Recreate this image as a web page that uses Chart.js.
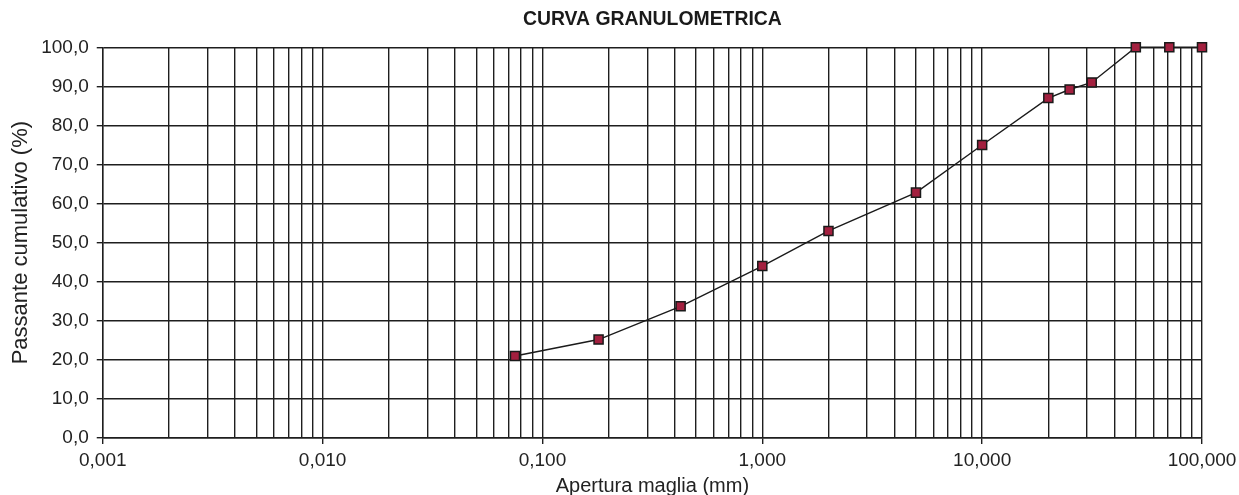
<!DOCTYPE html>
<html>
<head>
<meta charset="utf-8">
<script src="https://cdn.jsdelivr.net/npm/chart.js@4.4.0/dist/chart.umd.min.js"></script>
<style>
  html, body { margin: 0; padding: 0; background: #fff; }
  #wrap { width: 1239px; height: 495px; }
</style>
</head>
<body>
<div id="wrap"><canvas id="granChart"></canvas></div>
<script>
// sieve openings (mm) and cumulative passing (%)
const aperture = [0.075, 0.18, 0.425, 1, 2, 5, 10, 20, 25, 31.5, 50, 71, 100];
const passing = [21.0, 25.2, 33.7, 44.0, 53.0, 62.8, 75.0, 87.0, 89.2, 91.0, 100.0, 100.0, 100.0];

const xTickValues = [0.001, 0.01, 0.1, 1, 10, 100];
const xTickLabels = ['0,001', '0,010', '0,100', '1,000', '10,000', '100,000'];
const yTickLabels = ['0,0', '10,0', '20,0', '30,0', '40,0', '50,0', '60,0', '70,0', '80,0', '90,0', '100,0'];

const FONT = "'Liberation Sans', Arial, sans-serif";
const gridColor = '#1e1e1e';

const ctx = document.getElementById('granChart').getContext('2d');

const chart = new Chart(ctx, {
    type: 'line',
    data: {
        datasets: [{
            label: 'Passante',
            data: aperture.map((a, i) => ({ x: a, y: passing[i] })),
            borderColor: '#1a1a1a',
            borderWidth: 1.4,
            tension: 0,
            pointStyle: 'rect',
            pointRadius: 6.4,
            pointHoverRadius: 6.4,
            pointBackgroundColor: '#a3203f',
            pointBorderColor: '#1a1a1a',
            pointBorderWidth: 1.5,
            clip: false
        }]
    },
    options: {
        responsive: true,
        maintainAspectRatio: false,
        animation: false,
        layout: {
            padding: { left: 6, right: 0, top: 0, bottom: 0 }
        },
        scales: {
            x: {
                type: 'logarithmic',
                min: 0.001,
                max: 100,
                afterBuildTicks: function (axis) {
                    // one grid line for every 1..9 step of each decade
                    const ticks = [];
                    for (let d = 0; d < xTickValues.length - 1; d++) {
                        for (let k = 1; k <= 9; k++) {
                            ticks.push({ value: xTickValues[d] * k, major: k === 1 });
                        }
                    }
                    ticks.push({ value: xTickValues[xTickValues.length - 1], major: true });
                    axis.ticks = ticks;
                },
                afterFit: function (axis) {
                    // room for half of the last label only
                    axis.paddingRight = 37;
                },
                grid: {
                    color: gridColor,
                    lineWidth: 1.4,
                    tickLength: 6,
                    tickColor: function (c) {
                        return c.tick && c.tick.major ? gridColor : 'rgba(0,0,0,0)';
                    }
                },
                border: { color: gridColor, width: 1.4 },
                ticks: {
                    autoSkip: false,
                    maxRotation: 0,
                    padding: 7,
                    color: '#222',
                    font: { family: FONT, size: 19, lineHeight: 1 },
                    callback: function (value) {
                        const i = xTickValues.findIndex(v => Math.abs(v - value) < v * 1e-6);
                        return i >= 0 ? xTickLabels[i] : '';
                    }
                },
                title: {
                    display: true,
                    text: 'Apertura maglia (mm)',
                    color: '#222',
                    font: { family: FONT, size: 20, lineHeight: 0.9 },
                    padding: { top: 0, bottom: 0 }
                }
            },
            y: {
                min: 0,
                max: 100,
                ticks: {
                    stepSize: 10,
                    padding: 8,
                    color: '#222',
                    font: { family: FONT, size: 19 },
                    callback: function (value) {
                        return yTickLabels[Math.round(value / 10)];
                    }
                },
                grid: {
                    color: gridColor,
                    lineWidth: 1.4,
                    tickLength: 6
                },
                border: { color: gridColor, width: 1.4 },
                title: {
                    display: true,
                    text: 'Passante cumulativo (%)',
                    color: '#222',
                    font: { family: FONT, size: 22, lineHeight: 1.1 },
                    padding: { top: 3, bottom: 0 }
                }
            }
        },
        plugins: {
            legend: { display: false },
            tooltip: { enabled: false },
            title: {
                display: true,
                fullSize: false,
                text: 'CURVA GRANULOMETRICA',
                color: '#1a1a1a',
                font: { family: FONT, size: 19.4, weight: 'bold', lineHeight: 1.2 },
                padding: { top: 8, bottom: 16 }
            }
        }
    }
});
</script>
</body>
</html>
